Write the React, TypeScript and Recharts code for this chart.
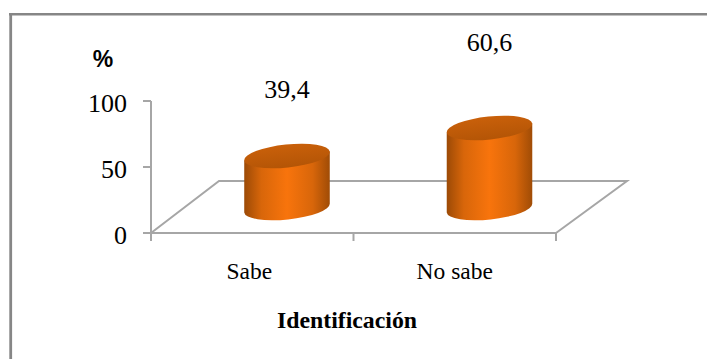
import { Bar, BarChart, LabelList, XAxis, YAxis } from "recharts";

const categories = ["Sabe", "No sabe"];
const percentages = [39.4, 60.6];
const valueLabels = ["39,4", "60,6"];
const yTicks = [0, 50, 100];

const rows = categories.map((name, i) => ({ name, value: percentages[i], text: valueLabels[i] }));

const CHART_W = 707;
const CHART_H = 359;
const PLOT = { left: 151, top: 101, right: 556, bottom: 233 };
const AXIS = "#a6a6a6";
const FRAME = "#868686";
const SERIF = "'Liberation Serif', 'Times New Roman', serif";

// the 3D floor is skewed back from the front edge of the plot
const DEPTH_X = 70;
const DEPTH_Y = 52;
// cylinders stand in the middle of the floor
const BAR_DX = 35;
const BAR_DY = 25;
const LABEL_LIFT = [83, 102];
const CATEGORY_NUDGE = [-3, 0];

function Cylinder(props: any) {
  const { x, y, width, height } = props;
  const rx = width / 2;
  const ry = 11.5;
  const tilt = 6;
  const rad = (tilt * Math.PI) / 180;
  const dx = rx * Math.cos(rad);
  const dy = rx * Math.sin(rad);
  const cx = x + rx + BAR_DX;
  const top = y - BAR_DY;
  const bottom = y + height - BAR_DY;
  const body = [
    `M ${cx - dx} ${top + dy}`,
    `L ${cx - dx} ${bottom + dy}`,
    `A ${rx} ${ry} ${-tilt} 0 0 ${cx + dx} ${bottom - dy}`,
    `L ${cx + dx} ${top - dy}`,
    "Z",
  ].join(" ");
  return (
    <g>
      <path d={body} fill="url(#cylBody)" />
      <ellipse cx={cx} cy={top} rx={rx} ry={ry} transform={`rotate(${-tilt} ${cx} ${top})`} fill="url(#cylTop)" />
    </g>
  );
}

function CategoryTick(props: any) {
  const { x, payload, index } = props;
  const band = (PLOT.right - PLOT.left) / categories.length;
  const axisY = PLOT.bottom;
  return (
    <g>
      <line x1={x - band / 2} x2={x - band / 2} y1={axisY} y2={axisY + 8} stroke={AXIS} strokeWidth={2} />
      {index === categories.length - 1 && (
        <line x1={x + band / 2} x2={x + band / 2} y1={axisY} y2={axisY + 8} stroke={AXIS} strokeWidth={2} />
      )}
      <text x={x + CATEGORY_NUDGE[index]} y={279} textAnchor="middle" fontFamily={SERIF} fontSize={23.5} fill="#000">
        {payload.value}
      </text>
    </g>
  );
}

function ValueLabel(props: any) {
  const { x, y, width, index } = props;
  return (
    <text
      x={x + width / 2 + BAR_DX}
      y={y - LABEL_LIFT[index]}
      textAnchor="middle"
      fontFamily={SERIF}
      fontSize={26}
      fill="#000"
    >
      {valueLabels[index]}
    </text>
  );
}

export default function App() {
  return (
    <div style={{ position: "absolute", left: 0, top: 0, width: CHART_W, height: CHART_H, background: "#fff" }}>
      <BarChart
        width={CHART_W}
        height={CHART_H}
        data={rows}
        margin={{
          top: PLOT.top,
          left: 0,
          right: CHART_W - PLOT.right,
          bottom: 0,
        }}
      >
        <defs>
          <linearGradient id="cylBody" x1="0" y1="0" x2="1" y2="0">
            <stop offset="0" stopColor="#9c4a06" />
            <stop offset="0.2" stopColor="#d8660a" />
            <stop offset="0.5" stopColor="#f8740c" />
            <stop offset="0.8" stopColor="#d8660a" />
            <stop offset="1" stopColor="#a04c06" />
          </linearGradient>
          <linearGradient id="cylTop" x1="0" y1="0" x2="0" y2="1">
            <stop offset="0" stopColor="#c9600a" />
            <stop offset="1" stopColor="#b45506" />
          </linearGradient>
        </defs>

        {/* frame only runs along the top and left, out to the page edges */}
        <line x1={9} x2={CHART_W} y1={14.3} y2={14.3} stroke={FRAME} strokeWidth={2.6} />
        <line x1={10.7} x2={10.7} y1={13} y2={CHART_H} stroke={FRAME} strokeWidth={2.8} />

        <polyline
          points={`${PLOT.left},${PLOT.bottom} ${PLOT.left + DEPTH_X - 2},${PLOT.bottom - DEPTH_Y} ${PLOT.right + DEPTH_X + 1},${PLOT.bottom - DEPTH_Y} ${PLOT.right},${PLOT.bottom}`}
          fill="none"
          stroke={AXIS}
          strokeWidth={2}
        />

        <XAxis
          dataKey="name"
          height={CHART_H - PLOT.bottom}
          axisLine={{ stroke: AXIS, strokeWidth: 2 }}
          tickLine={false}
          tick={<CategoryTick />}
          interval={0}
        />
        <YAxis
          domain={[0, 100]}
          ticks={yTicks}
          width={PLOT.left}
          axisLine={{ stroke: AXIS, strokeWidth: 2 }}
          tickLine={{ stroke: AXIS, strokeWidth: 2 }}
          tickSize={8}
          tickMargin={16}
          tick={{ fontFamily: SERIF, fontSize: 26, fill: "#000", dy: 1.5 }}
        />
        <Bar dataKey="value" barSize={86} fill="#f8740c" isAnimationActive={false} shape={<Cylinder />}>
          <LabelList dataKey="text" content={<ValueLabel />} />
        </Bar>

        <text x={103} y={67} textAnchor="middle" fontFamily="'Liberation Sans', Arial, sans-serif" fontWeight="bold" fontSize={23} fill="#000">
          %
        </text>
        <text x={347} y={328} textAnchor="middle" fontFamily={SERIF} fontWeight="bold" fontSize={23.8} fill="#000">
          Identificación
        </text>
      </BarChart>
    </div>
  );
}
